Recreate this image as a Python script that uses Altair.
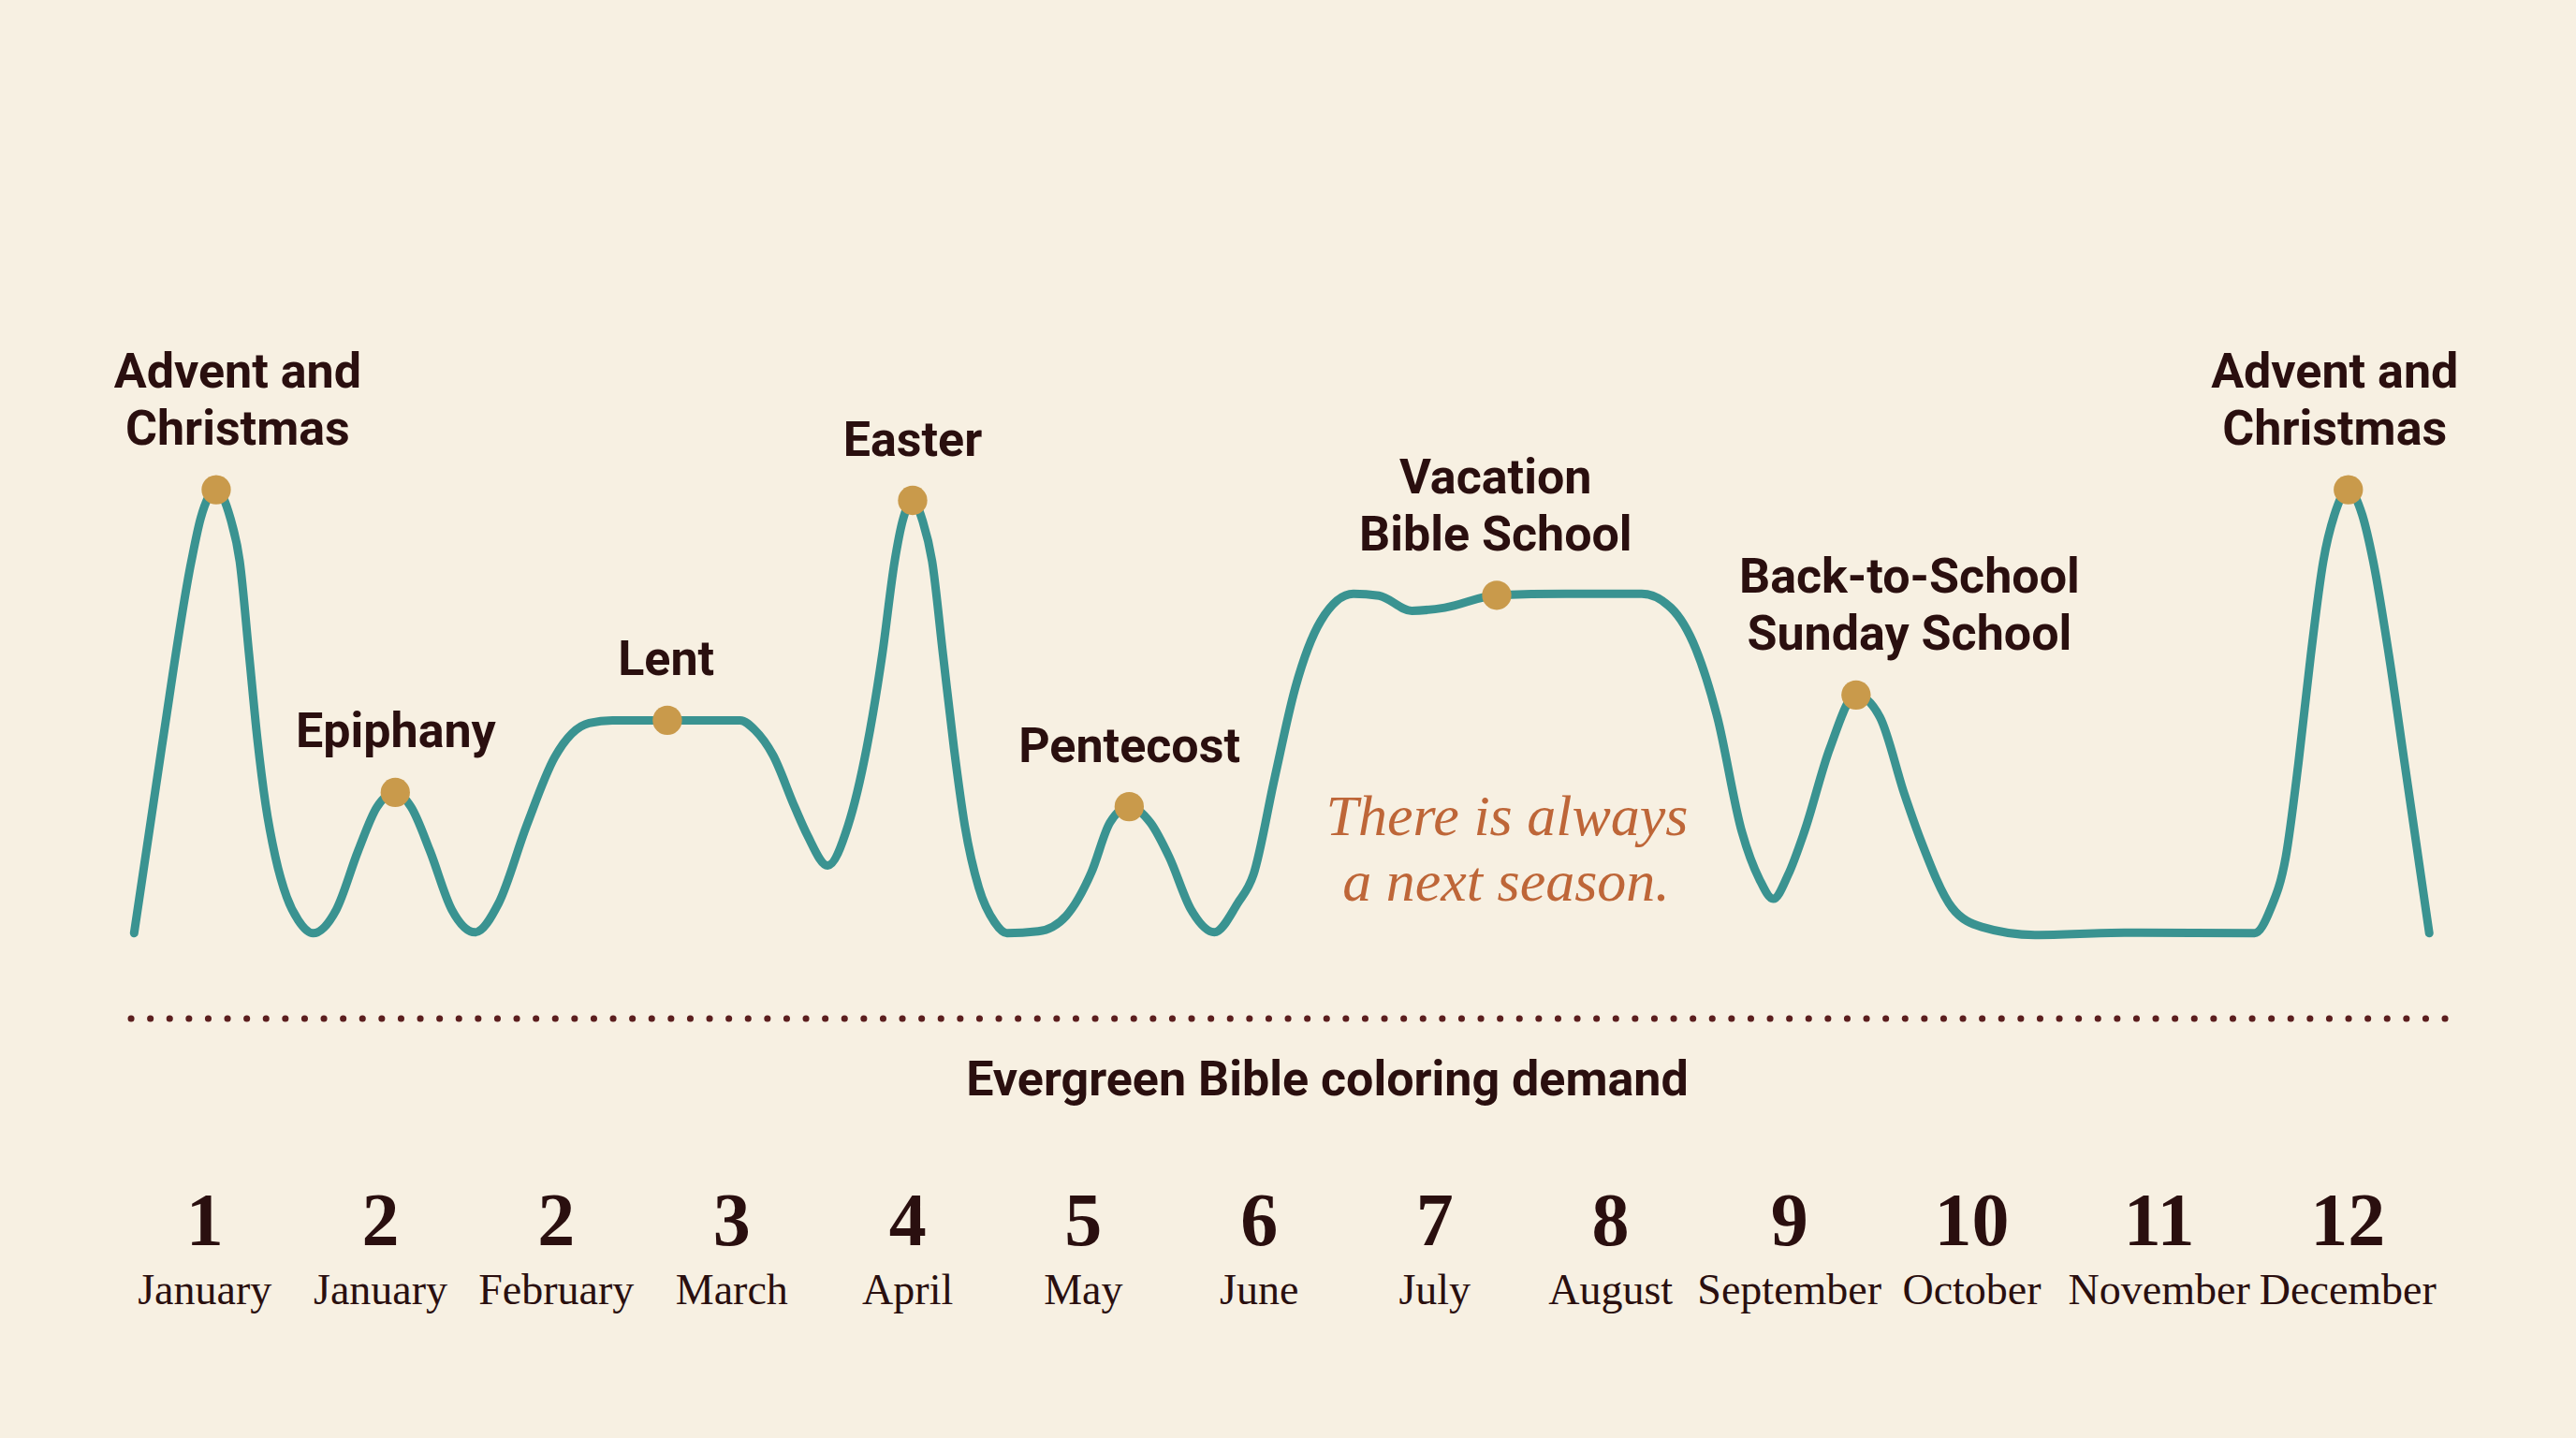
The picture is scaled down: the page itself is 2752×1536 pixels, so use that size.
import altair as alt
import pandas as pd

# ---- demand curve (x in months from the start of the cycle, y = relative demand 0-100)
curve_x = [0.000, 0.144, 0.299, 0.348, 0.429, 0.503, 0.552, 0.601, 0.644, 0.687,
           0.738, 0.798, 0.858, 0.935, 1.057, 1.171, 1.269, 1.365, 1.448, 1.546,
           1.660, 1.782, 1.905, 2.051, 2.198, 2.378, 2.500, 2.787, 3.167, 3.245,
           3.339, 3.453, 3.519, 3.625, 3.731, 3.829, 3.910, 3.975, 4.016, 4.069,
           4.122, 4.171, 4.228, 4.285, 4.342, 4.415, 4.497, 4.562, 4.725, 4.872,
           5.003, 5.100, 5.201, 5.312, 5.410, 5.524, 5.646, 5.768, 5.850, 5.960,
           6.069, 6.202, 6.373, 6.506, 6.678, 6.850, 7.122, 7.485, 7.880, 8.032,
           8.163, 8.275, 8.403, 8.495, 8.567, 8.645, 8.730, 8.863, 9.000, 9.125,
           9.253, 9.337, 9.502, 9.657, 9.935, 10.403, 11.083, 11.165, 11.246, 11.312,
           11.377, 11.442, 11.500, 11.573, 11.646, 11.703, 11.785, 11.866, 11.996]
curve_y = [0.4, 42.0, 83.9, 93.6, 100.0, 93.6, 83.9, 62.9, 44.1, 29.4,
           17.6, 8.5, 3.3, 0.4, 5.7, 18.9, 28.7, 32.0, 28.7, 18.9,
           5.7, 0.6, 7.1, 24.5, 39.9, 47.6, 48.2, 48.2, 48.2, 46.0,
           40.4, 28.7, 22.4, 15.6, 24.5, 42.0, 62.9, 83.9, 92.9, 97.6,
           92.9, 83.9, 62.9, 42.0, 24.5, 10.6, 2.9, 0.4, 0.8, 4.3,
           14.0, 25.2, 28.8, 25.2, 17.5, 5.7, 0.6, 7.1, 13.5, 35.0,
           55.5, 70.5, 76.6, 76.2, 72.8, 73.5, 76.3, 76.6, 76.6, 73.5,
           64.2, 48.9, 23.2, 12.5, 8.1, 13.5, 23.2, 41.9, 53.9, 48.9,
           31.6, 21.4, 6.1, 1.8, 0.0, 0.5, 0.4, 5.7, 17.5, 38.5,
           62.9, 83.9, 94.3, 100.0, 94.3, 83.9, 62.9, 38.9, 0.4]

# ---- seasonal peaks
season_x = [0.429, 1.365, 2.787, 4.069, 5.201, 7.122, 9.000, 11.573]
season_y = [100.0, 32.0, 48.2, 97.6, 28.8, 76.3, 53.9, 100.0]
label_x = [0.541, 1.368, 2.781, 4.069, 5.202, 7.116, 9.279, 11.502]
label_top = ["Advent and", "", "", "", "", "Vacation", "Back-to-School", "Advent and"]
label_bottom = ["Christmas", "Epiphany", "Lent", "Easter", "Pentecost",
                "Bible School", "Sunday School", "Christmas"]

# ---- month ticks
tick_x = [0.369, 1.288, 2.206, 3.124, 4.043, 4.961, 5.880, 6.798, 7.717,
          8.652, 9.605, 10.584, 11.571]
tick_num = ["1", "2", "2", "3", "4", "5", "6", "7", "8", "9", "10", "11", "12"]
tick_month = ["January", "January", "February", "March", "April", "May", "June",
              "July", "August", "September", "October", "November", "December"]

subtitle = "Evergreen Bible coloring demand"
motto = ["There is always", "a next season."]

BG = "#F7F0E2"
TEAL = "#3A9391"
GOLD = "#C99A4B"
INK = "#2A0F0F"
RUST = "#BE6638"
DOTS = "#5C1F1F"
SANS = "Roboto, sans-serif"
SERIF = "Liberation Serif, DejaVu Serif, serif"
LABEL_SIZE = 52

W, H = 2752, 1536
xs = alt.Scale(domain=[-0.701, 12.763], nice=False, zero=False)
ys = alt.Scale(domain=[-113.0, 210.0], nice=False, zero=False)

curve = pd.DataFrame({"x": curve_x, "y": curve_y})
seasons = pd.DataFrame({"x": season_x, "y": season_y, "lx": label_x,
                        "top": label_top, "bottom": label_bottom})
ticks = pd.DataFrame({"x": tick_x, "num": tick_num, "month": tick_month})

X = alt.X("x:Q", scale=xs, axis=None)
Y = alt.Y("y:Q", scale=ys, axis=None)

line = alt.Chart(curve).mark_line(
    color=TEAL, strokeWidth=9, interpolate="monotone", strokeCap="round", strokeJoin="round"
).encode(x=X, y=Y)

dots = alt.Chart(seasons).mark_point(
    filled=True, shape="circle", size=980, color=GOLD, opacity=1
).encode(x=X, y=Y)

lab_bottom = alt.Chart(seasons).mark_text(
    font=SANS, fontSize=LABEL_SIZE, fontWeight="bold", color=INK, align="center",
    baseline="alphabetic", dy=-48
).encode(x=alt.X("lx:Q", scale=xs, axis=None), y=Y, text="bottom:N")

lab_top = alt.Chart(seasons).mark_text(
    font=SANS, fontSize=LABEL_SIZE, fontWeight="bold", color=INK, align="center",
    baseline="alphabetic", dy=-109
).encode(x=alt.X("lx:Q", scale=xs, axis=None), y=Y, text="top:N")

rule = alt.Chart(pd.DataFrame({"a": [0]})).mark_rule(
    color=DOTS, strokeWidth=7, strokeDash=[0.1, 20.5], strokeCap="round"
).encode(x=alt.value(140), x2=alt.value(2625), y=alt.value(1088))

sub = alt.Chart(pd.DataFrame({"t": [subtitle]})).mark_text(
    font=SANS, fontSize=LABEL_SIZE, fontWeight="bold", color=INK, align="center", baseline="alphabetic"
).encode(x=alt.value(1418), y=alt.value(1170), text="t:N")

motto1 = alt.Chart(pd.DataFrame({"t": [motto[0]]})).mark_text(
    font=SERIF, fontSize=62, fontStyle="italic", color=RUST, align="center", baseline="alphabetic"
).encode(x=alt.value(1610), y=alt.value(892), text="t:N")
motto2 = alt.Chart(pd.DataFrame({"t": [motto[1]]})).mark_text(
    font=SERIF, fontSize=62, fontStyle="italic", color=RUST, align="center", baseline="alphabetic"
).encode(x=alt.value(1609), y=alt.value(962), text="t:N")

nums = alt.Chart(ticks).mark_text(
    font=SERIF, fontSize=80, fontWeight="bold", color=INK, align="center", baseline="alphabetic"
).encode(x=X, y=alt.value(1330), text="num:N")

months = alt.Chart(ticks).mark_text(
    font=SERIF, fontSize=46, color=INK, align="center", baseline="alphabetic"
).encode(x=X, y=alt.value(1393), text="month:N")

chart = alt.layer(
    rule, line, dots, lab_top, lab_bottom, sub, motto1, motto2, nums, months
).properties(
    width=W, height=H, autosize=alt.AutoSizeParams(type="none"), padding=0, background=BG
).configure_view(stroke=None, fill=BG)

chart.save("out.html", embed_options={"renderer": "svg", "actions": False})
